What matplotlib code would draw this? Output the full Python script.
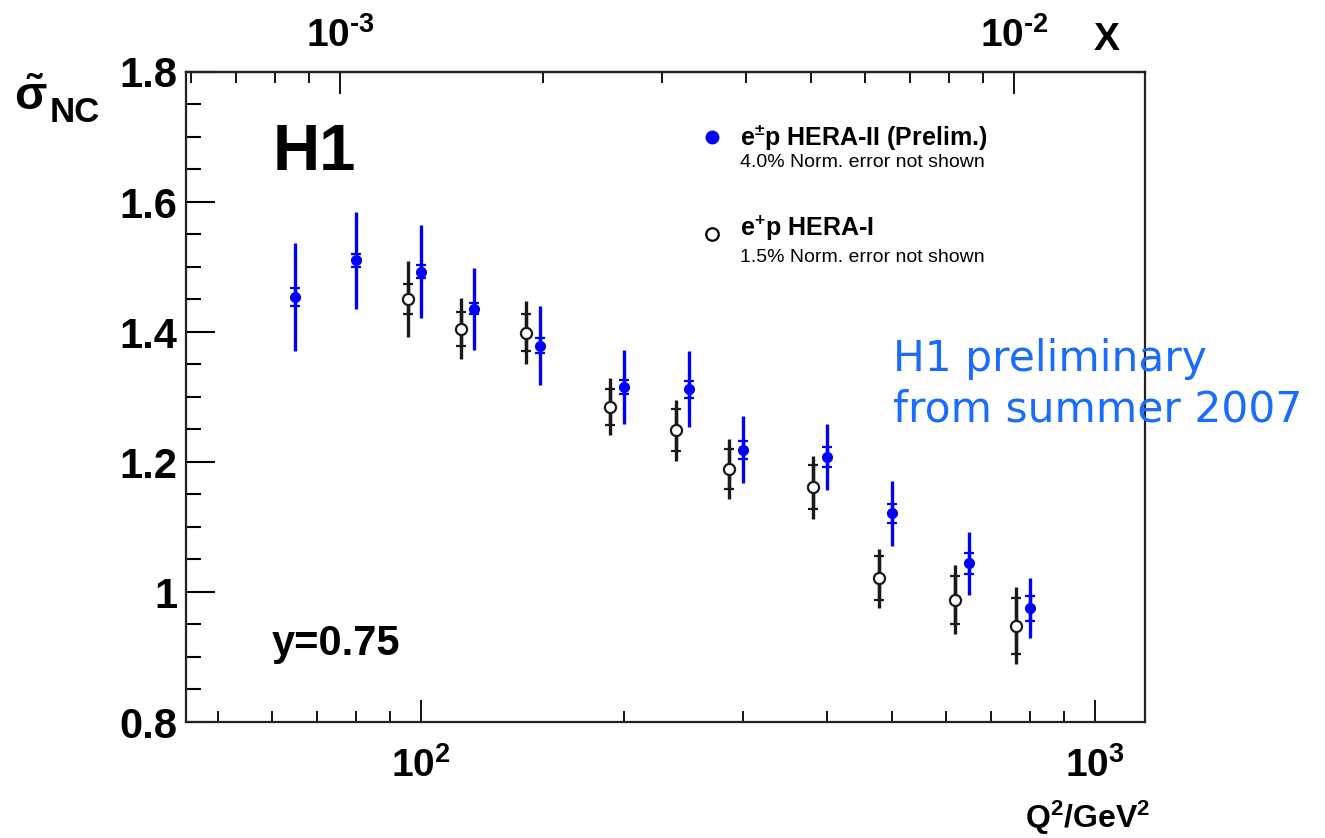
import matplotlib
matplotlib.use('Agg')
import matplotlib.pyplot as plt
from matplotlib.ticker import FormatStrFormatter, NullFormatter, FuncFormatter, MultipleLocator
import numpy as np

plt.rcParams['font.family'] = ['Liberation Sans', 'DejaVu Sans']
plt.rcParams['font.weight'] = 'bold'
plt.rcParams['mathtext.fontset'] = 'custom'
plt.rcParams['mathtext.rm'] = 'Liberation Sans:bold'
plt.rcParams['mathtext.bf'] = 'Liberation Sans:bold'
plt.rcParams['mathtext.it'] = 'Liberation Sans:bold:italic'
plt.rcParams['mathtext.default'] = 'rm'

# data, y = 0.75
q2_hera2 = [65, 80, 100, 120, 150, 200, 250, 300, 400, 500, 650, 800]
sig_hera2 = [1.454, 1.510, 1.493, 1.436, 1.379, 1.315, 1.312, 1.219, 1.208, 1.121, 1.044, 0.975]
stat_hera2 = [0.014, 0.010, 0.010, 0.009, 0.011, 0.011, 0.013, 0.014, 0.015, 0.015, 0.016, 0.019]
tot_hera2 = [0.083, 0.075, 0.071, 0.063, 0.061, 0.057, 0.058, 0.052, 0.051, 0.050, 0.048, 0.046]

q2_hera1 = [100, 120, 150, 200, 250, 300, 400, 500, 650, 800]
sig_hera1 = [1.451, 1.405, 1.399, 1.285, 1.249, 1.189, 1.161, 1.021, 0.988, 0.948]
stat_hera1 = [0.023, 0.026, 0.028, 0.028, 0.032, 0.031, 0.034, 0.034, 0.037, 0.043]
tot_hera1 = [0.058, 0.047, 0.048, 0.044, 0.047, 0.046, 0.048, 0.045, 0.053, 0.059]

x_ticks = [1e-3, 1e-2]
shift = 0.955          # HERA-I points drawn slightly left for visibility
sy = 318.0**2 * 0.75   # x = Q2 / (s y)


def pow10(v, pos=None):
    # ROOT style 10^n with a short hyphen in the exponent
    e = int(round(np.log10(v)))
    return r'10$^{%s}$' % (str(e).replace('-', '\u2010'))


fig = plt.figure(figsize=(13.25, 8.38), dpi=100)
ax = fig.add_axes([186/1325, 116/838, 959/1325, 650/838])

q2_h1_shifted = [q * shift for q in q2_hera1]

# HERA-I: open black circles
ax.errorbar(q2_h1_shifted, sig_hera1, yerr=tot_hera1, fmt='none', ecolor='#1a1a1a', elinewidth=2.4, capsize=0, zorder=2)
ax.errorbar(q2_h1_shifted, sig_hera1, yerr=stat_hera1, fmt='o', color='#1a1a1a', mfc='white', mec='#1a1a1a',
            ms=8, mew=1.6, elinewidth=2.4, capsize=3.5, capthick=1.6, zorder=3)

# HERA-II: filled blue circles
ax.errorbar(q2_hera2, sig_hera2, yerr=tot_hera2, fmt='none', ecolor='#0000ff', elinewidth=2.4, capsize=0, zorder=2)
ax.errorbar(q2_hera2, sig_hera2, yerr=stat_hera2, fmt='o', color='#0000ff', ms=7, elinewidth=2.4,
            capsize=3.5, capthick=1.6, zorder=3)

ax.set_xscale('log')
ax.set_xlim(44.8, 1186)
ax.set_ylim(0.8, 1.8)

ax.yaxis.set_major_locator(MultipleLocator(0.2))
ax.yaxis.set_minor_locator(MultipleLocator(0.05))
ax.yaxis.set_major_formatter(FormatStrFormatter('%g'))
ax.xaxis.set_major_formatter(FuncFormatter(pow10))
ax.xaxis.set_minor_formatter(NullFormatter())

ax.tick_params(axis='y', which='major', direction='in', length=21, width=1.5, labelsize=30, pad=6)
ax.tick_params(axis='y', which='minor', direction='in', length=11, width=1.5)
ax.tick_params(axis='x', which='major', direction='in', length=16, width=1.3, labelsize=28, pad=18)
ax.tick_params(axis='x', which='minor', direction='in', length=8, width=1.3)
for sp in ax.spines.values():
    sp.set_linewidth(1.6)
    sp.set_color('#222222')

secax = ax.secondary_xaxis('top', functions=(lambda q: q / sy, lambda x: x * sy))
secax.set_xticks(x_ticks)
secax.xaxis.set_major_formatter(FuncFormatter(pow10))
secax.xaxis.set_minor_formatter(NullFormatter())
secax.tick_params(axis='x', which='major', direction='in', length=16, width=1.3, labelsize=28, pad=12)
secax.tick_params(axis='x', which='minor', direction='in', length=8, width=1.3)
secax.spines['top'].set_linewidth(1.6)

# labels
fig.text(1025/1325, 1 - 828/838, r'Q$^{2}$/GeV$^{2}$', fontsize=23, ha='left', va='baseline')
fig.text(1094/1325, 1 - 50/838, 'X', fontsize=28, ha='left', va='baseline')
fig.text(14/1325, 1 - 110/838, r'$\tilde{\sigma}$', fontsize=34, ha='left', va='baseline')
fig.text(50/1325, 1 - 122/838, 'NC', fontsize=25, ha='left', va='baseline')

ax.text(273/1325, 1 - 170/838, 'H1', transform=fig.transFigure, fontsize=47, ha='left', va='baseline')
ax.text(272/1325, 1 - 655/838, 'y=0.75', transform=fig.transFigure, fontsize=30, ha='left', va='baseline')

# legend
ax.plot([0.548], [0.900], 'o', color='#0000ff', ms=9, transform=ax.transAxes, clip_on=False)
ax.text(0.578, 0.900, r'e$^{\pm}$p HERA-II (Prelim.)', transform=ax.transAxes, fontsize=18, va='center')
ax.text(0.578, 0.861, '4.0% Norm. error not shown', transform=ax.transAxes, fontsize=14, fontweight='normal', va='center')
ax.plot([0.548], [0.7508], 'o', color='black', mfc='white', ms=9, mew=1.6, transform=ax.transAxes, clip_on=False)
ax.text(0.578, 0.760, r'e$^{+}$p HERA-I', transform=ax.transAxes, fontsize=18, va='center')
ax.text(0.578, 0.714, '1.5% Norm. error not shown', transform=ax.transAxes, fontsize=14, fontweight='normal', va='center')

fig.text(893/1325, 1 - 338/838, 'H1 preliminary\nfrom summer 2007', fontsize=30.5, color='#1a6cff',
         family='DejaVu Sans', fontweight='normal', ha='left', va='top', linespacing=1.25)

fig.savefig('out.png', dpi=100)
